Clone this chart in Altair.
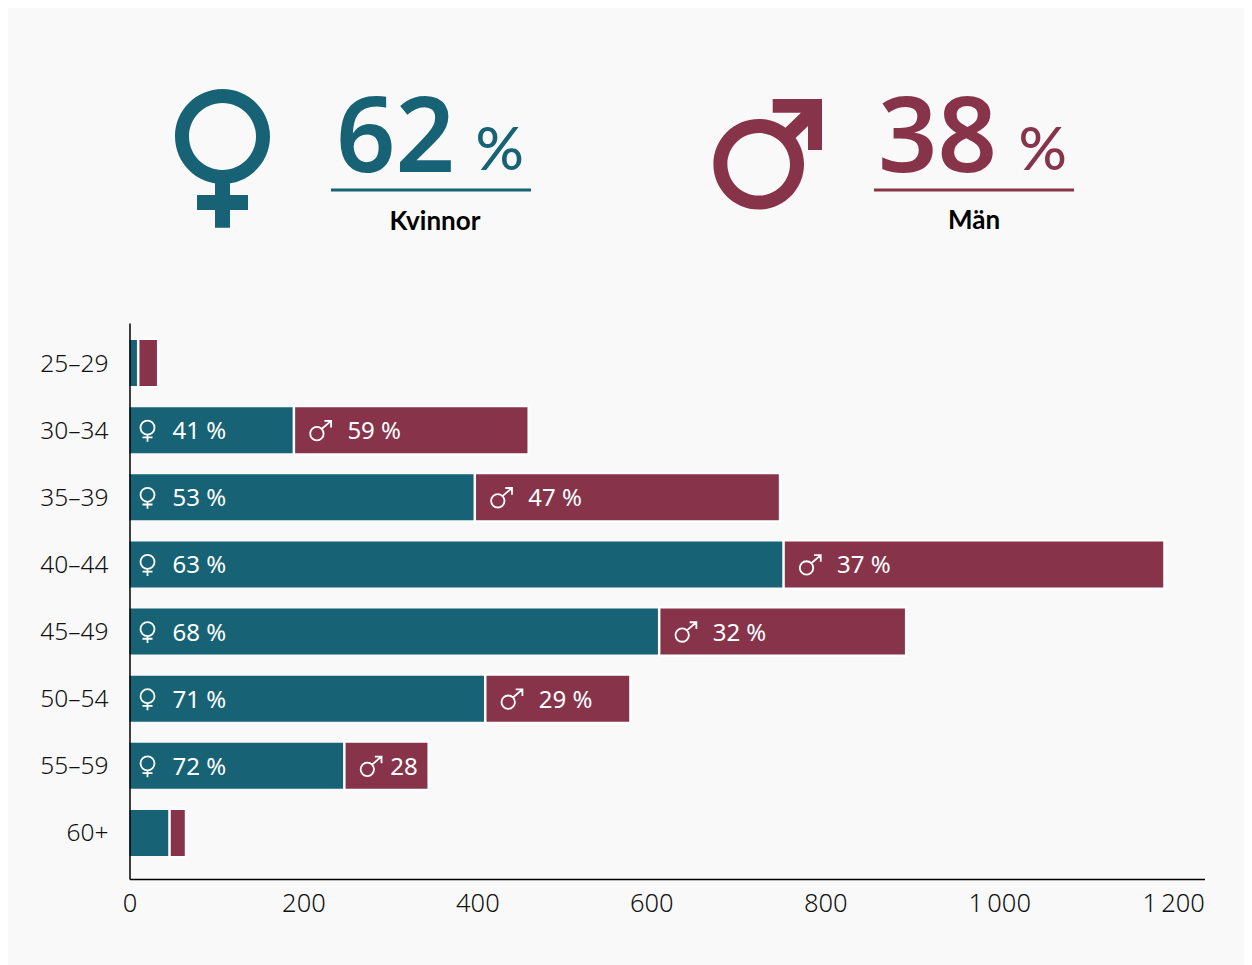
import altair as alt
import pandas as pd

ages = ["25–29", "30–34", "35–39", "40–44", "45–49", "50–54", "55–59", "60+"]
women = [10, 189, 397, 752, 609, 409, 247, 46]
men = [23, 270, 351, 438, 284, 167, 97, 19]
women_pct = ["", "41 %", "53 %", "63 %", "68 %", "71 %", "72 %", ""]
men_pct = ["", "59 %", "47 %", "37 %", "32 %", "29 %", "28", ""]
x_ticks = [0, 200, 400, 600, 800, 1000, 1200]

TEAL = "#176375"
WINE = "#87344b"
BG = "#f9f9f9"
FONT = "Noto Sans"

df = pd.DataFrame({"age": ages, "women": women, "men": men,
                   "wp": women_pct, "mp": men_pct})
df["total"] = df["women"] + df["men"]

x_scale = alt.Scale(domain=[0, 1236], nice=False, zero=True)
y_scale = alt.Scale(domain=ages, paddingInner=0.315, paddingOuter=0.298, align=0.425)

x_enc = alt.X("women:Q", scale=x_scale, axis=alt.Axis(
    title=None, values=x_ticks, grid=False, ticks=False, domainColor="#000000",
    domainWidth=1.5, labelFont=FONT, labelFontWeight=300, labelFontSize=25.5,
    labelColor="#111111", labelPadding=12, labelFlush=False, zindex=1,
    labelExpr="replace(format(datum.value, ','), ',', '\u2009')"))
y_enc = alt.Y("age:N", scale=y_scale, sort=ages, axis=alt.Axis(
    title=None, grid=False, ticks=False, domainColor="#000000", domainWidth=1.5,
    labelFont=FONT, labelFontWeight=300, labelFontSize=24.5, labelColor="#111111",
    labelPadding=21.5, labelOffset=1.5, zindex=1))

base = alt.Chart(df)
women_bar = base.mark_bar(color=TEAL, size=46).encode(x=x_enc, y=y_enc)
men_bar = base.mark_bar(color=WINE, size=48.5, stroke="#ffffff", strokeWidth=2.5).encode(
    x=alt.X("women:Q", scale=x_scale), x2="total:Q", y=alt.Y("age:N", scale=y_scale, sort=ages))

FEMALE_SMALL = ("M -0.7 -0.25 A 0.7 0.7 0 1 1 0.7 -0.25 A 0.7 0.7 0 1 1 -0.7 -0.25 Z "
                "M 0 0.45 L 0 1.15 M -0.5 0.72 L 0.5 0.72")
MALE_SMALL = ("M -0.67 0.35 A 0.67 0.67 0 1 1 0.67 0.35 A 0.67 0.67 0 1 1 -0.67 0.35 Z "
              "M 0.47 -0.12 L 1.42 -0.93 M 0.75 -0.93 L 1.42 -0.93 L 1.42 -0.26")

labelled = base.transform_filter("datum.wp != ''")
yy = alt.Y("age:N", scale=y_scale, sort=ages)
women_sym = labelled.mark_point(shape=FEMALE_SMALL, size=400, filled=False, color="#ffffff",
                                strokeWidth=1.8, opacity=1, xOffset=18).encode(
    x=alt.value(0), y=yy)
men_sym = labelled.mark_point(shape=MALE_SMALL, size=400, filled=False, color="#ffffff",
                              strokeWidth=1.8, opacity=1, xOffset=23).encode(
    x=alt.X("women:Q", scale=x_scale), y=yy)
text_kw = dict(font=FONT, fontSize=24, fontWeight=400, color="#ffffff", align="left",
               baseline="middle", dy=2)
women_txt = labelled.mark_text(dx=43, **text_kw).encode(x=alt.value(0), y=yy, text="wp:N")
men_txt = labelled.transform_filter("datum.men > 100").mark_text(dx=53.5, **text_kw).encode(
    x=alt.X("women:Q", scale=x_scale), y=yy, text="mp:N")
men_txt_short = labelled.transform_filter("datum.men <= 100").mark_text(dx=46, **text_kw).encode(
    x=alt.X("women:Q", scale=x_scale), y=yy, text="mp:N")

# ---- header, page coordinates relative to the plot origin (129.5, 323)
OX, OY = 129.5, 323
one = alt.Chart(pd.DataFrame({"k": [0]}))


def at(x, y):
    return dict(x=alt.value(x - OX), y=alt.value(y - OY))


FEMALE_BIG = ("M -0.475 0 A 0.475 0.475 0 1 1 0.475 0 A 0.475 0.475 0 1 1 -0.475 0 Z "
              "M -0.335 0 A 0.335 0.335 0 1 0 0.335 0 A 0.335 0.335 0 1 0 -0.335 0 Z "
              "M -0.075 0.4 L 0.075 0.4 L 0.075 0.585 L 0.255 0.585 L 0.255 0.735 L 0.075 0.735 "
              "L 0.075 0.912 L -0.075 0.912 L -0.075 0.735 L -0.255 0.735 L -0.255 0.585 "
              "L -0.075 0.585 Z")
MALE_BIG = ("M -0.453 0 A 0.453 0.453 0 1 1 0.453 0 A 0.453 0.453 0 1 1 -0.453 0 Z "
            "M -0.313 0 A 0.313 0.313 0 1 0 0.313 0 A 0.313 0.313 0 1 0 -0.313 0 Z "
            "M 0.14 -0.653 L 0.633 -0.653 L 0.633 -0.143 L 0.493 -0.143 L 0.493 -0.383 "
            "L 0.30 -0.195 L 0.20 -0.30 L 0.423 -0.516 L 0.14 -0.516 Z")

head = [
    one.mark_point(shape=FEMALE_BIG, size=40000, filled=True, color=TEAL, opacity=1,
                   strokeWidth=0).encode(**at(222.5, 136.5)),
    one.mark_point(shape=MALE_BIG, size=40000, filled=True, color=WINE, opacity=1,
                   strokeWidth=0).encode(**at(758.7, 164.3)),
]
for txt, x, y, size, col, weight, align, font in [
    ("62", 336, 172, 104, TEAL, 600, "left", FONT),
    ("%", 475.5, 170, 60, TEAL, 500, "left", "Lato"),
    ("38", 878, 172, 104, WINE, 600, "left", FONT),
    ("%", 1018.5, 170, 60, WINE, 500, "left", "Lato"),
    ("Kvinnor", 435, 230, 26, "#000000", 700, "center", "Lato"),
    ("Män", 974, 229, 26, "#000000", 700, "center", "Lato"),
]:
    head.append(one.mark_text(text=txt, font=font, fontSize=size, color=col, fontWeight=weight,
                              align=align, baseline="alphabetic").encode(**at(x, y)))
for x1, x2, col in [(331, 531, TEAL), (874, 1074, WINE)]:
    head.append(one.mark_rule(color=col, strokeWidth=3).encode(
        x=alt.value(x1 - OX), x2=alt.value(x2 - OX), y=alt.value(190 - OY)))

chart = alt.layer(women_bar, men_bar, women_sym, men_sym, women_txt, men_txt, men_txt_short,
                  *head).properties(
    width=1075, height=556, background=BG,
    padding={"left": 121.5, "top": 315, "right": 39.5, "bottom": 86},
    autosize=alt.AutoSizeParams(type="none"),
).configure_view(stroke=None)

chart.save("out.html", embed_options={"renderer": "svg", "actions": False})
